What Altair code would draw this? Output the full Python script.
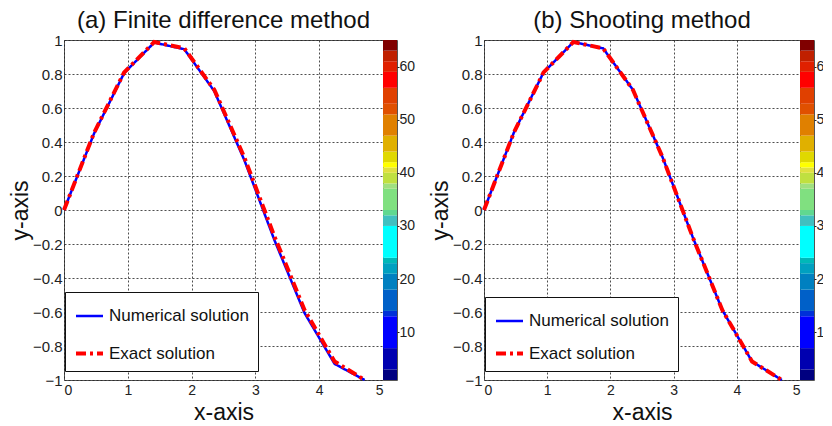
import altair as alt
import pandas as pd

# ---- data ----
x_vals = [0.0, 0.471, 0.942, 1.414, 1.885, 2.356, 2.827, 3.299, 3.770, 4.241, 4.712]
exact_vals = [0.0, 0.454, 0.809, 0.988, 0.951, 0.707, 0.309, -0.156, -0.588, -0.891, -1.0]
fd_numerical = [0.0, 0.450, 0.805, 0.985, 0.946, 0.699, 0.293, -0.178, -0.606, -0.905, -1.0]
shoot_numerical = [0.0, 0.454, 0.809, 0.988, 0.951, 0.707, 0.309, -0.156, -0.588, -0.891, -1.0]

series_names = ["Numerical solution", "Exact solution"]
panel_titles = ["(a) Finite difference method", "(b) Shooting method"]

x_ticks = [0, 1, 2, 3, 4, 5]
y_ticks = [-1, -0.8, -0.6, -0.4, -0.2, 0, 0.2, 0.4, 0.6, 0.8, 1]
cbar_ticks = [10, 20, 30, 40, 50, 60]

# colour bar blocks (level ranges 1..65, MATLAB style)
cbar_lo = [1, 3, 7, 13, 14, 18, 21, 23, 24, 30, 32, 33, 37, 38, 40, 41, 42, 44, 47, 51, 53, 56, 59, 61, 63]
cbar_hi = [3, 7, 13, 14, 18, 21, 23, 24, 30, 32, 33, 37, 38, 40, 41, 42, 44, 47, 51, 53, 56, 59, 61, 63, 65]
cbar_colors = ["#000080", "#0000b0", "#0000ff", "#0030d8", "#0060c8", "#0080c0", "#00a0c0",
               "#00b8b8", "#00ffff", "#40c0c0", "#60d890", "#80e080", "#a0e080", "#c0e040",
               "#e0e040", "#ffff00", "#e0d800", "#e0b000", "#e08000", "#e05000", "#e04000",
               "#ff0000", "#e02000", "#c02000", "#800000"]

FONT = "Liberation Sans"


def line_panel(numerical, title, row_pad, leg_y, width):
    df = pd.DataFrame({
        "x": x_vals * 2,
        "y": numerical + exact_vals,
        "series": [series_names[0]] * len(x_vals) + [series_names[1]] * len(x_vals),
    })
    leg = alt.Legend(
        title=None, orient="none", legendX=1, legendY=leg_y, symbolType="stroke",
        symbolSize=729, labelFontSize=17, labelFont=FONT, labelColor="#111",
        padding=9, rowPadding=row_pad, fillColor="white", strokeColor="#111",
        labelLimit=300, symbolStrokeWidth=3,
    )
    enc = dict(
        x=alt.X("x:Q", scale=alt.Scale(domain=[0, 5], nice=False),
                axis=alt.Axis(values=x_ticks, title="x-axis")),
        y=alt.Y("y:Q", scale=alt.Scale(domain=[-1, 1], nice=False),
                axis=alt.Axis(values=y_ticks, format="~g", title="y-axis")),
        color=alt.Color("series:N", scale=alt.Scale(domain=series_names, range=["#0000ff", "#ff0000"]),
                        legend=leg),
        strokeDash=alt.StrokeDash("series:N", scale=alt.Scale(domain=series_names, range=[[1, 0], [10, 4, 3, 4]]),
                                  legend=leg),
        strokeWidth=alt.StrokeWidth("series:N", scale=alt.Scale(domain=series_names, range=[2.5, 4]),
                                    legend=leg),
    )
    base = alt.Chart(df)
    blue = base.transform_filter(alt.datum.series == series_names[0]).mark_line().encode(**enc)
    red = base.transform_filter(alt.datum.series == series_names[1]).mark_line().encode(**enc)
    return alt.layer(blue, red).properties(width=width, height=340, title=title)


def colorbar():
    df = pd.DataFrame({"lo": cbar_lo, "hi": cbar_hi, "c": cbar_colors})
    return alt.Chart(df).mark_rect().encode(
        y=alt.Y("lo:Q", scale=alt.Scale(domain=[1, 65], nice=False, zero=False),
                axis=alt.Axis(orient="right", values=cbar_ticks, title=None, grid=False,
                              domain=False, ticks=True, tickSize=2, tickColor="#222",
                              labelFontSize=14, labelPadding=0)),
        y2="hi:Q",
        x=alt.value(0), x2=alt.value(14),
        color=alt.Color("c:N", scale=None, legend=None),
    ).properties(width=14, height=340)


pa = alt.hconcat(line_panel(fd_numerical, panel_titles[0], 14, 252, 319), colorbar(),
                 spacing=0, bounds="flush")
pb = alt.hconcat(line_panel(shoot_numerical, panel_titles[1], 9, 257, 316), colorbar(),
                 spacing=0, bounds="flush")

chart = alt.hconcat(pa, pb, spacing=12).properties(
    padding={"left": 0, "top": 0, "right": -10, "bottom": -4}
).resolve_scale(
    color="independent", strokeDash="independent", strokeWidth="independent"
).resolve_legend(
    color="independent", strokeDash="independent", strokeWidth="independent"
).configure(
    font=FONT,
).configure_view(
    stroke="#555", strokeWidth=1
).configure_axis(
    labelFont=FONT, labelColor="#222",
    titleFont=FONT, titleFontWeight="normal", titleColor="#111",
    grid=True, gridColor="#222", gridDash=[2, 2], gridOpacity=0.8, gridWidth=1,
    domain=False, ticks=False,
).configure_axisY(
    labelPadding=2, titlePadding=0, labelFontSize=15, titleFontSize=23,
).configure_axisX(
    labelPadding=3, titlePadding=4, labelFontSize=14, titleFontSize=23,
).configure_title(
    font=FONT, fontSize=24, fontWeight="normal", color="#111", offset=0, dy=4, anchor="middle",
)

chart.save("out.html", embed_options={"renderer": "svg", "actions": False})
